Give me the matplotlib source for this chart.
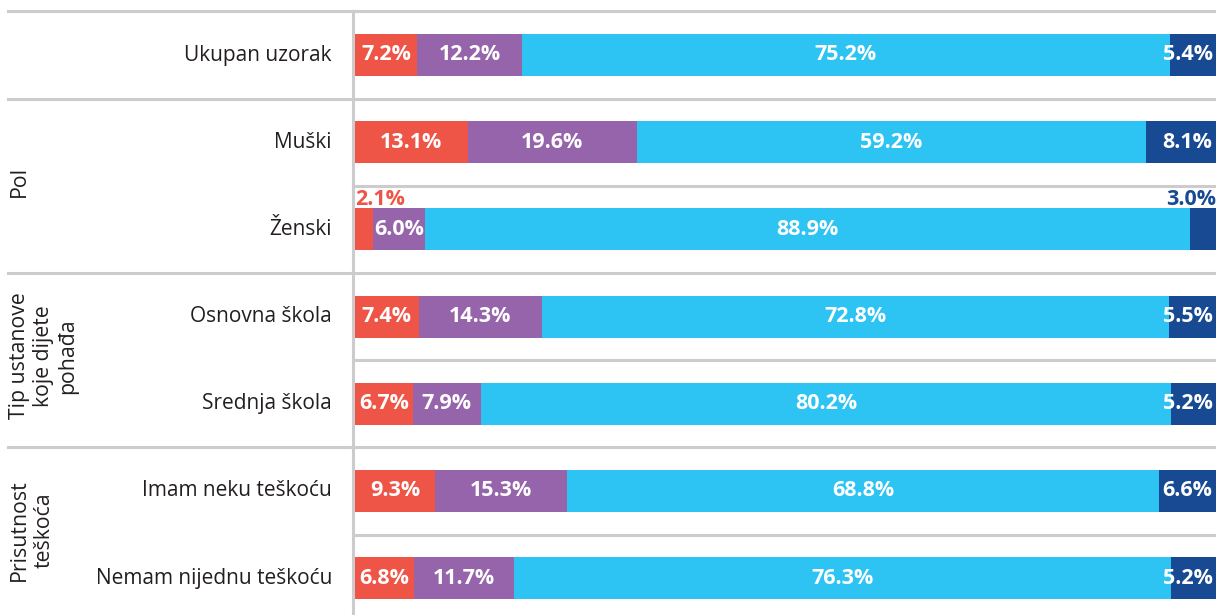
import matplotlib
matplotlib.use("Agg")
import matplotlib.pyplot as plt
from matplotlib.transforms import blended_transform_factory

categories = ["Ukupan uzorak", "Muški", "Ženski", "Osnovna škola", "Srednja škola",
              "Imam neku teškoću", "Nemam nijednu teškoću"]
s1 = [7.2, 13.1, 2.1, 7.4, 6.7, 9.3, 6.8]
s2 = [12.2, 19.6, 6.0, 14.3, 7.9, 15.3, 11.7]
s3 = [75.2, 59.2, 88.9, 72.8, 80.2, 68.8, 76.3]
s4 = [5.4, 8.1, 3.0, 5.5, 5.2, 6.6, 5.2]
groups = ["Pol", "Tip ustanove\nkoje dijete\npohađa", "Prisutnost\nteškoća"]
group_pos = [1.45, 3.45, 5.45]

colors = ["#EF5546", "#9664AA", "#2DC4F3", "#174A93"]
grid_col = "#CDCBCB"
txt_col = "#231F20"
FONT = "Open Sans"

W, H = 1216, 615
fig = plt.figure(figsize=(W / 100, H / 100), dpi=100)
ax = fig.add_axes([355 / W, 0, 1 - 355 / W, 1])
row_h = 87.2
y0 = 55
ax.set_ylim((H - y0) / row_h, -y0 / row_h)
ax.set_xlim(0, 100)
ax.axis("off")

series = [s1, s2, s3, s4]
n = len(categories)
bar_h = 0.48
left = [0.0] * n
for si, vals in enumerate(series):
    ax.barh(range(n), vals, left=left, height=bar_h, color=colors[si], zorder=2)
    for i, v in enumerate(vals):
        lab = f"{v:.1f}%"
        if v < 4:
            if si == 0:
                ax.text(left[i], i - bar_h / 2 + 0.02, lab, ha="left", va="bottom",
                        color=colors[si], fontsize=15.5, fontweight="bold", family=FONT, zorder=3)
            else:
                ax.text(100, i - bar_h / 2 + 0.02, lab, ha="right", va="bottom",
                        color=colors[si], fontsize=15.5, fontweight="bold", family=FONT, zorder=3)
        elif si == len(series) - 1:
            ax.text(99.6, i, lab, ha="right", va="center", color="white",
                    fontsize=15.5, fontweight="bold", family=FONT, zorder=3)
        else:
            ax.text(left[i] + v / 2, i, lab, ha="center", va="center", color="white",
                    fontsize=15.5, fontweight="bold", family=FONT, zorder=3)
    left = [l + v for l, v in zip(left, vals)]

tr = blended_transform_factory(fig.transFigure, ax.transData)
# separators
full = [-0.5, 0.5, 2.5, 4.5]
short = [1.5, 3.5, 5.5]
for y in full:
    ax.plot([8 / W, 1], [y, y], transform=tr, color=grid_col, lw=2.2, clip_on=False, zorder=1)
for y in short:
    ax.plot([353 / W, 1], [y, y], transform=tr, color=grid_col, lw=2.2, clip_on=False, zorder=1)
ax.plot([353 / W, 353 / W], [-0.5, (H - y0) / row_h], transform=tr, color=grid_col,
        lw=2.2, clip_on=False, zorder=1)

for i, c in enumerate(categories):
    ax.text(332 / W, i, c, transform=tr, ha="right", va="center", fontsize=15,
            color=txt_col, family=FONT)

for g, yp in zip(groups, group_pos):
    ax.text(9 / W, yp, g, transform=tr, ha="left", va="center", rotation=90,
            multialignment="center", fontsize=15.3, color=txt_col, family=FONT,
            linespacing=1.2)

fig.savefig("out.png", dpi=100)
